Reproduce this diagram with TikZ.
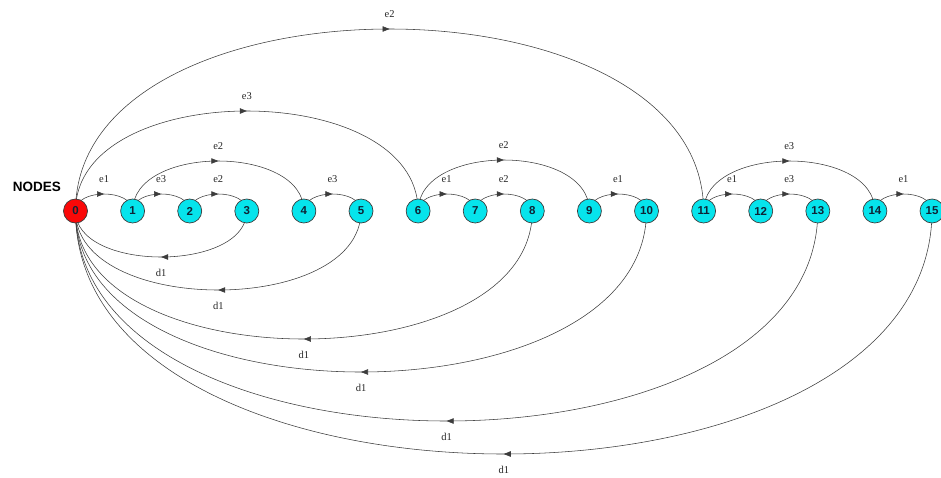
\documentclass[tikz,border=0pt]{standalone}
\usepackage{fontspec}
\setmainfont{Liberation Serif}
\newfontfamily\statefont{Liberation Sans}
\usetikzlibrary{arrows.meta,decorations.markings,backgrounds}
\definecolor{ink}{HTML}{3C3C3C}
\definecolor{numcol}{HTML}{0E2436}
\definecolor{startcol}{HTML}{FA0808}
\definecolor{statecol}{HTML}{06E4EC}

\begin{document}
\begin{tikzpicture}[x=1pt, y=-1pt, line cap=round, line join=round,
  state/.style={circle, draw=ink, line width=0.7pt, fill=statecol,
                minimum size=24pt, inner sep=0pt, text=numcol,
                font=\statefont\bfseries\fontsize{11.5}{12}\selectfont},
  start/.style={state, fill=startcol},
  ttl/.style={font=\statefont\bfseries\fontsize{13.5}{14}\selectfont},
  link/.style={draw=ink, line width=0.55pt, postaction={decorate},
               decoration={markings, mark=at position 0.5 with
                 {\arrow{Triangle[length=7pt,width=5.5pt]}}}},
  lbl/.style={font=\fontsize{10.5}{10.5}\selectfont, text=black!85, inner sep=1pt}]

\useasboundingbox (0,0) rectangle (941,477);

% ---------------------------------------------- states
\node[start] (n0) at (75.5,211) {0};
\foreach \i in {1,...,15}
  \node[state] (n\i) at ({75.5+57.1*\i},211) {\i};
\node[ttl] (title) at (37,187) {NODES};

% ---------------------------------------------- transitions
\begin{scope}[on background layer]
  % arcs above, left to right
  \foreach \a/\b/\h/\lab in {0/1/17/e1, 1/2/17/e3, 2/3/17/e2, 1/4/50/e2,
                             4/5/17/e3, 0/6/100/e3, 6/7/17/e1, 7/8/17/e2,
                             6/9/51/e2, 9/10/17/e1, 0/11/182/e2, 11/12/17/e1,
                             12/13/17/e3, 11/14/50/e3, 14/15/17/e1}
    \draw[link] (n\a.center) .. controls +(0,{-4*\h/3}) and +(0,{-4*\h/3})
      .. (n\b.center) node[lbl, midway, yshift=15pt] {\lab};
  % arcs below, back to 0
  \foreach \a/\h in {3/46, 5/79, 8/128, 10/161, 13/210, 15/243}
    \draw[link] (n\a.center) .. controls +(0,{4*\h/3}) and +(0,{4*\h/3})
      .. (n0.center) node[lbl, midway, yshift=-16pt] {d1};
\end{scope}

\end{tikzpicture}
\end{document}
